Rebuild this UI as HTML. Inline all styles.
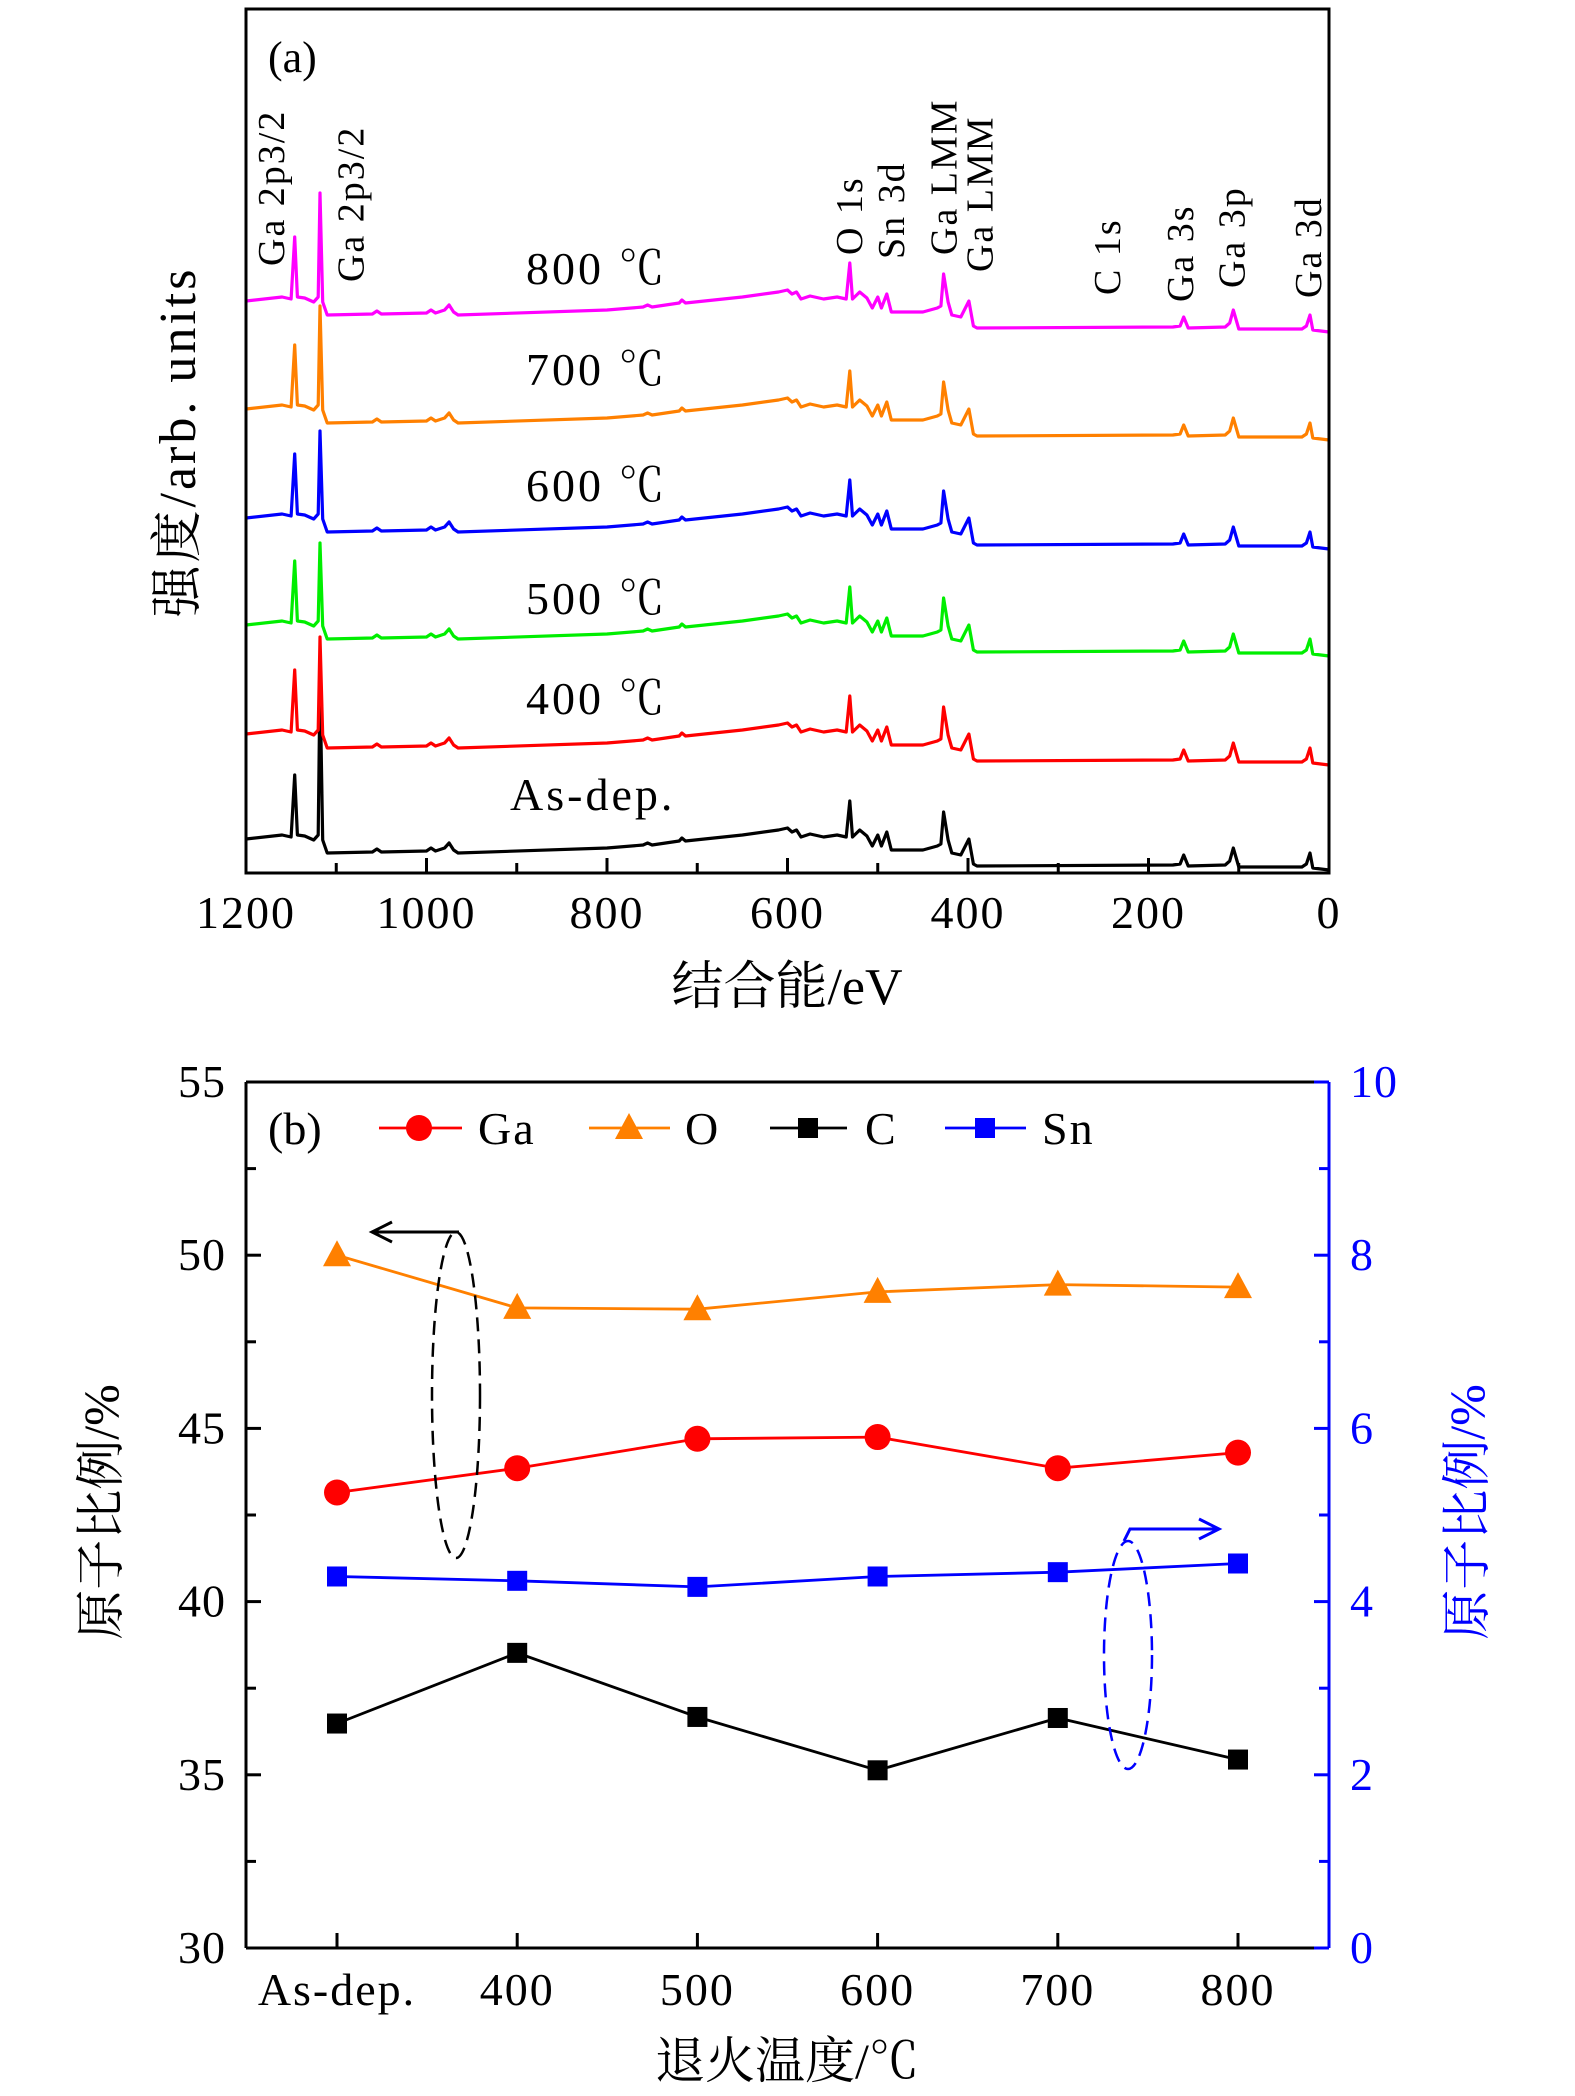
<!DOCTYPE html>
<html><head><meta charset="utf-8">
<style>
html,body{margin:0;padding:0;background:#fff;}
svg{display:block;}
text{font-family:"Liberation Serif","Noto Serif CJK SC",serif;}
</style></head>
<body>
<svg id="fig" width="1575" height="2096" viewBox="0 0 1575 2096" xmlns="http://www.w3.org/2000/svg">
  <g id="panelA"></g>
  <g id="panelB"></g>
</svg>
<script>
// ---------- Panel (a) data ----------
const shapeEnergies = [1200,1160,1150,1146,1143,1135,1125,1120,1118,1115,1110,1060,1055,1050,1000,995,990,980,975,970,965,800,760,755,750,720,717,713,650,610,600,595,590,585,575,560,545,535,531,528,520,512,506,500,496,490,485,450,434,430,427,422,418,408,399,394,390,173,165,161,156,115,110,106,100,30,25,21,18,0];
const shapeIntensity = [31,35,33,95,35,34,30,35,0,30,17,18,21,18,19,22,19,22,27,20,17,22,25,27,25,29,32,29,35,40,42,38,40,33,36,33,35,33,69,33,40,34,24,35,24,38,20,20,24,26,58,30,17,15,31,6,4,5,6,15,4,5,9,22,3,3,6,17,2,0];
const seriesNames = ["As-dep.","400 ℃","500 ℃","600 ℃","700 ℃","800 ℃"];
const seriesOffsets = [0,105,214,321,430,538];
const ga2pPeak = [190,128,113,118,134,139];
const seriesColors = ["#000000","#ff0000","#00ee00","#0000ff","#ff8000","#ff00ff"];
const xTicksA = [1200,1000,800,600,400,200,0];
const peakLabels = ["Ga 2p3/2","Ga 2p3/2","O 1s","Sn 3d","Ga LMM","Ga LMM","C 1s","Ga 3s","Ga 3p","Ga 3d"];
const peakLabelEnergy = [1171,1083,531,484,426,386,245,164,107,22];
const peakLabelBottom = [266,282,255,259,255,272,295,302,288,298];

// ---------- Panel (b) data ----------
const categories = ["As-dep.","400","500","600","700","800"];
const gaValues = [43.15,43.85,44.7,44.75,43.85,44.3];
const oValues = [50.0,48.48,48.44,48.94,49.15,49.08];
const cValues = [36.48,38.52,36.67,35.13,36.64,35.44];
const snValues = [4.29,4.24,4.17,4.29,4.34,4.44];
const leftTicks = [30,35,40,45,50,55];
const rightTicks = [0,2,4,6,8,10];

const NS="http://www.w3.org/2000/svg";
function mk(parent,tag,attrs,text){const e=document.createElementNS(NS,tag);for(const k in attrs)e.setAttribute(k,attrs[k]);if(text!==undefined)e.textContent=text;parent.appendChild(e);return e;}

// ===== Panel A =====
const A=document.getElementById('panelA');
const aL=246,aR=1329,aT=9,aB=873,aBase=870;
const xA=e=>aL+(1200-e)*(aR-aL)/1200;
const yA=(i,s)=>aBase-seriesOffsets[s]-i;
for(let s=0;s<seriesNames.length;s++){
  let d="";
  for(let k=0;k<shapeEnergies.length;k++){
    let I=shapeIntensity[k];
    if(shapeEnergies[k]===1118) I=ga2pPeak[s];
    d+=(k?"L":"M")+xA(shapeEnergies[k]).toFixed(1)+" "+yA(I,s).toFixed(1);
  }
  const p=mk(A,'path',{d:d,fill:'none',stroke:seriesColors[s],'stroke-width':3.2,'stroke-linejoin':'round'});
  
  
}
const labY=[810,714,614,501,385,284];
for(let s=0;s<seriesNames.length;s++){
  const t=mk(A,'text',{x:s===0?510:526,y:labY[s],'font-size':46,'letter-spacing':'3'},seriesNames[s]);
  
  
}
for(let k=0;k<peakLabels.length;k++){
  const x=xA(peakLabelEnergy[k])+12, y=peakLabelBottom[k];
  const t=mk(A,'text',{x:x,y:y,'font-size':38,transform:`rotate(-90 ${x} ${y})`,'letter-spacing':'2'},peakLabels[k]);
  
  
}
const fa=mk(A,'rect',{x:aL,y:aT,width:aR-aL,height:aB-aT,fill:'none',stroke:'#000','stroke-width':3});


for(let e=1200;e>=0;e-=100){
  const major=e%200===0;
  mk(A,'line',{x1:xA(e),x2:xA(e),y1:aB,y2:aB-(major?15:10),stroke:'#000','stroke-width':3});
}
for(const v of xTicksA){
  const t=mk(A,'text',{x:xA(v),y:928,'font-size':46,'text-anchor':'middle','letter-spacing':'2'},String(v));
  
  
}
let t;
t=mk(A,'text',{x:268,y:72,'font-size':44},'(a)');


t=mk(A,'text',{x:787,y:1004,'font-size':52,'text-anchor':'middle'},'结合能/eV');


t=mk(A,'text',{x:195,y:442,'font-size':52,'text-anchor':'middle','letter-spacing':'3',transform:'rotate(-90 195 442)'},'强度/arb. units');



// ===== Panel B =====
const B=document.getElementById('panelB');
const bL=246,bR=1329,bT=1082,bB=1948;
const catX=[337,517,696,877,1057,1238];
const xB=i=>catX[0]+i*(catX[5]-catX[0])/5;
const yL=v=>bB-(v-30)*(bB-bT)/25;
const yR=v=>bB-v*(bB-bT)/10;
mk(B,'line',{x1:bL,y1:bT,x2:bR,y2:bT,stroke:'#000','stroke-width':3});
mk(B,'line',{x1:bL,y1:bB,x2:bR,y2:bB,stroke:'#000','stroke-width':3});
mk(B,'line',{x1:bL,y1:bT,x2:bL,y2:bB,stroke:'#000','stroke-width':3});
const ra=mk(B,'line',{x1:bR,y1:bT,x2:bR,y2:bB,stroke:'#0000ff','stroke-width':3});


for(let v=30;v<=55;v+=2.5){mk(B,'line',{x1:bL,x2:bL+(v%5===0?15:10),y1:yL(v),y2:yL(v),stroke:'#000','stroke-width':3});}
for(let v=0;v<=10;v+=1){mk(B,'line',{x1:bR,x2:bR-(v%2===0?15:10),y1:yR(v),y2:yR(v),stroke:'#0000ff','stroke-width':3});}
for(let i=0;i<categories.length;i++){mk(B,'line',{x1:xB(i),x2:xB(i),y1:bB,y2:bB-15,stroke:'#000','stroke-width':3});}
for(const v of leftTicks){
  t=mk(B,'text',{x:226,y:yL(v)+15,'font-size':46,'text-anchor':'end','letter-spacing':'1'},String(v));
  
  
}
for(const v of rightTicks){
  t=mk(B,'text',{x:1350,y:yR(v)+15,'font-size':46,fill:'#0000ff','letter-spacing':'1'},String(v));
  
  
}
for(let i=0;i<categories.length;i++){
  t=mk(B,'text',{x:xB(i),y:2005,'font-size':46,'text-anchor':'middle','letter-spacing':'2'},categories[i]);
  
  
}
function marker(g,type,x,y,col){
  if(type==='circle') return mk(g,'circle',{cx:x,cy:y,r:13,fill:col});
  if(type==='tri') return mk(g,'polygon',{points:`${x},${y-15} ${x-14},${y+11} ${x+14},${y+11}`,fill:col});
  return mk(g,'rect',{x:x-10,y:y-10,width:20,height:20,fill:col});
}
function series(vals,yf,col,type,name){
  const g=mk(B,'g',{});
  
  
  let d="";
  vals.forEach((v,i)=>{d+=(i?"L":"M")+xB(i)+" "+yf(v).toFixed(1);});
  mk(g,'path',{d:d,fill:'none',stroke:col,'stroke-width':2.8});
  vals.forEach((v,i)=>{const m=marker(g,type,xB(i),yf(v),col);
    
    });
}
series(oValues,yL,'#ff8000','tri','series-o');
series(gaValues,yL,'#ff0000','circle','series-ga');
series(cValues,yL,'#000000','square','series-c');
series(snValues,yR,'#0000ff','square','series-sn');
const legend=[["Ga","#ff0000","circle",379,462,419,478],["O","#ff8000","tri",589,670,629,685],["C","#000000","square",770,847,808,865],["Sn","#0000ff","square",945,1026,985,1042]];
for(const L of legend){
  const g=mk(B,'g',{});
  
  
  mk(g,'line',{x1:L[3],x2:L[4],y1:1128,y2:1128,stroke:L[1],'stroke-width':2.8});
  marker(g,L[2],L[5],1128,L[1]);
  mk(g,'text',{x:L[6],y:1144,'font-size':46,'letter-spacing':'2'},L[0]);
}
t=mk(B,'text',{x:268,y:1144,'font-size':46},'(b)');


let a=mk(B,'ellipse',{cx:456,cy:1395,rx:24,ry:163,fill:'none',stroke:'#000','stroke-width':2.5,'stroke-dasharray':'14 8'});


mk(B,'path',{d:'M459 1232 L375 1232',stroke:'#000','stroke-width':3,fill:'none'});
mk(B,'path',{d:'M392 1222 L372 1232 L392 1242',stroke:'#000','stroke-width':3,fill:'none'});
a=mk(B,'ellipse',{cx:1128,cy:1655,rx:24,ry:114,fill:'none',stroke:'#0000ff','stroke-width':2.5,'stroke-dasharray':'14 8'});


mk(B,'path',{d:'M1124 1541 L1130 1529 L1216 1529',stroke:'#0000ff','stroke-width':3,fill:'none'});
mk(B,'path',{d:'M1199 1519 L1219 1529 L1199 1539',stroke:'#0000ff','stroke-width':3,fill:'none'});
t=mk(B,'text',{x:787,y:2078,'font-size':50,'text-anchor':'middle'},'退火温度/℃');


t=mk(B,'text',{x:118,y:1512,'font-size':50,'text-anchor':'middle',transform:'rotate(-90 118 1512)'},'原子比例/%');


t=mk(B,'text',{x:1484,y:1512,'font-size':50,'text-anchor':'middle',fill:'#0000ff',transform:'rotate(-90 1484 1512)'},'原子比例/%');


</script>
</body></html>
